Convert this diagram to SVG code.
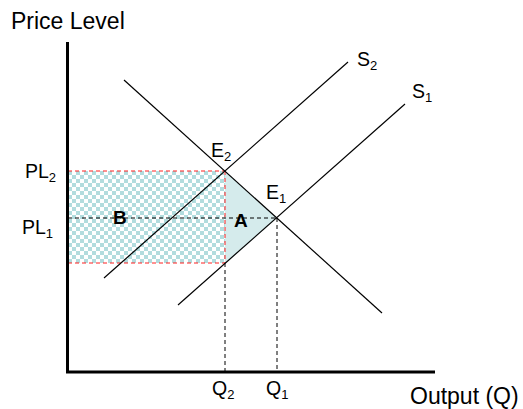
<svg xmlns="http://www.w3.org/2000/svg" width="523" height="409" viewBox="0 0 523 409">
<style>
text{font-family:"Liberation Sans",Arial,sans-serif;fill:#000}
.ax{stroke:#000;stroke-width:3;fill:none}
.ln{stroke:#000;stroke-width:1.2;fill:none}
.dk{stroke:#000;stroke-width:1;stroke-dasharray:4 3;fill:none}
.dr{stroke:#ff2020;stroke-width:1;stroke-dasharray:4 3;fill:none}
.t{font-size:19.5px}
.b{font-size:19px;font-weight:bold}
.ti{font-size:23px}
.s{font-size:13px}
</style>
<defs>
<pattern id="chk" width="8" height="8" patternUnits="userSpaceOnUse" x="68" y="171">
<rect width="8" height="8" fill="#ffffff"/>
<rect width="4" height="4" fill="#b2dcde"/>
<rect x="4" y="4" width="4" height="4" fill="#b2dcde"/>
</pattern>
</defs>
<rect width="523" height="409" fill="#fff"/>
<g id="areaB"><rect x="68" y="171" width="157" height="92" fill="url(#chk)"/></g>
<g id="areaA"><polygon points="225,171 277,218 225,264" fill="#d5ebec"/></g>
<g id="connectors">
<line class="dr" x1="68" y1="171" x2="225" y2="171"/>
<line class="dr" x1="68" y1="263" x2="225" y2="263"/>
<line class="dr" x1="225" y1="171" x2="225" y2="263"/>
<line class="dk" x1="225" y1="263" x2="225" y2="371"/>
<line class="dk" x1="68" y1="218" x2="277" y2="218"/>
<line class="dk" x1="277" y1="218" x2="277" y2="371"/>
<line class="ln" x1="124" y1="80" x2="382" y2="313"/>
<line class="ln" x1="104" y1="278" x2="348" y2="62"/>
<line class="ln" x1="178" y1="305" x2="405" y2="104"/>
<line class="ax" x1="67.5" y1="42" x2="67.5" y2="373"/>
<line class="ax" x1="66" y1="372" x2="435" y2="372"/>
</g>
<g id="labels">
<text class="ti" x="11" y="29">Price Level</text>
<text class="ti" x="410" y="404">Output (Q)</text>
<text class="t" x="25" y="178">PL<tspan class="s" dy="4">2</tspan></text>
<text class="t" x="22" y="234">PL<tspan class="s" dy="4">1</tspan></text>
<text class="t" x="212" y="395">Q<tspan class="s" dy="4">2</tspan></text>
<text class="t" x="266" y="395">Q<tspan class="s" dy="4">1</tspan></text>
<text class="t" x="211" y="157">E<tspan class="s" dy="4">2</tspan></text>
<text class="t" x="266" y="199">E<tspan class="s" dy="4">1</tspan></text>
<text class="t" x="357" y="66">S<tspan class="s" dy="4">2</tspan></text>
<text class="t" x="412" y="98">S<tspan class="s" dy="4">1</tspan></text>
<text class="b" x="113" y="224">B</text>
<text class="b" x="234" y="227">A</text>
</g>
</svg>
